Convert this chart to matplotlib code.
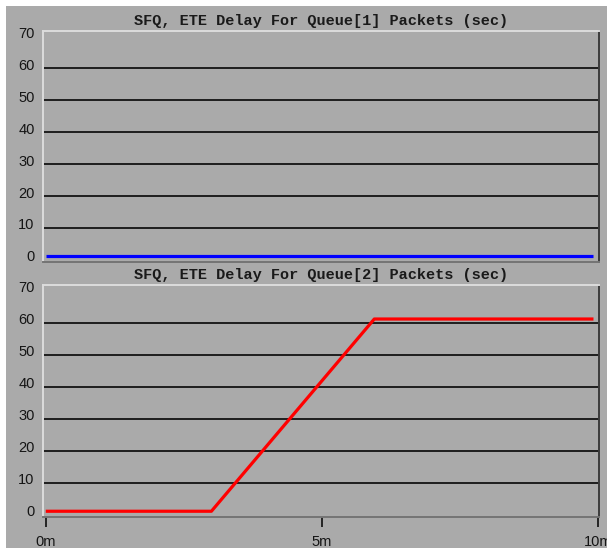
import matplotlib

matplotlib.use("Agg")

import matplotlib.pyplot as plt
from matplotlib.patches import Rectangle
from matplotlib.transforms import ScaledTranslation

# tempo de simulacao (minutos) e atraso fim-a-fim (s) de cada fila
q1_tempo = [0.0, 9.92]
q1_atraso = [1.2, 1.2]

q2_tempo = [0.0, 3.0, 5.95, 9.92]
q2_atraso = [1.2, 1.2, 61.1, 61.1]

titulos = [
    "SFQ, ETE Delay For Queue[1] Packets (sec)",
    "SFQ, ETE Delay For Queue[2] Packets (sec)",
]
y_ticks = [0, 10, 20, 30, 40, 50, 60, 70]
x_ticks = [0, 5, 10]
x_rotulos = ["0m", "5m", "10m"]

FUNDO = "#aaaaaa"
W, H = 607, 548

fig = plt.figure(figsize=(W / 100, H / 100), dpi=100, facecolor=FUNDO)

# faixa branca no topo e na esquerda
fig.patches.append(Rectangle((0, 1 - 6 / H), 1, 6 / H, transform=fig.transFigure,
                             facecolor="white", edgecolor="none"))
fig.patches.append(Rectangle((0, 0), 6 / W, 1, transform=fig.transFigure,
                             facecolor="white", edgecolor="none"))


def painel(rect, titulo, tempo, atraso, cor, com_eixo_x):
    ax = fig.add_axes(rect, facecolor=FUNDO)
    ax.set_xlim(-0.05, 10.02)
    ax.set_ylim(-0.5, 71.7)

    for y in y_ticks[1:-1]:
        ax.axhline(y, color="#1e1e1e", lw=1.4, zorder=1)

    ax.plot(tempo, atraso, color=cor, lw=2.3, solid_capstyle="butt", zorder=3)

    ax.spines["left"].set_color("#dcdcdc")
    ax.spines["top"].set_color("#dcdcdc")
    ax.spines["right"].set_color("#3c3c3c")
    ax.spines["bottom"].set_color("#747474")
    for s in ax.spines.values():
        s.set_linewidth(1.4)

    ax.set_yticks(y_ticks)
    ax.tick_params(axis="y", length=0, pad=6, labelsize=10.5, labelcolor="#151515")
    for lbl in ax.get_yticklabels():
        lbl.set_fontfamily("Liberation Sans")
        lbl.set_transform(lbl.get_transform()
                          + ScaledTranslation(0, 3 / 72, fig.dpi_scale_trans))

    if com_eixo_x:
        ax.set_xticks(x_ticks)
        ax.set_xticklabels(x_rotulos, fontfamily="Liberation Sans")
        ax.tick_params(axis="x", length=7.2, width=1.1, pad=6,
                       labelsize=10.5, labelcolor="#151515")
    else:
        ax.set_xticks([])

    ax.set_title(titulo, fontfamily="Liberation Mono", fontweight="bold",
                 fontsize=11, color="#1a1a1a", pad=4)
    return ax


esq = 43 / W
larg = (599 - 43) / W
painel([esq, 1 - 261.7 / H, larg, (261.7 - 31) / H], titulos[0],
       q1_tempo, q1_atraso, "#0000ff", False)
painel([esq, 1 - 516.7 / H, larg, (516.7 - 285) / H], titulos[1],
       q2_tempo, q2_atraso, "#ff0000", True)

fig.savefig("out.png", dpi=100, facecolor=FUNDO)
